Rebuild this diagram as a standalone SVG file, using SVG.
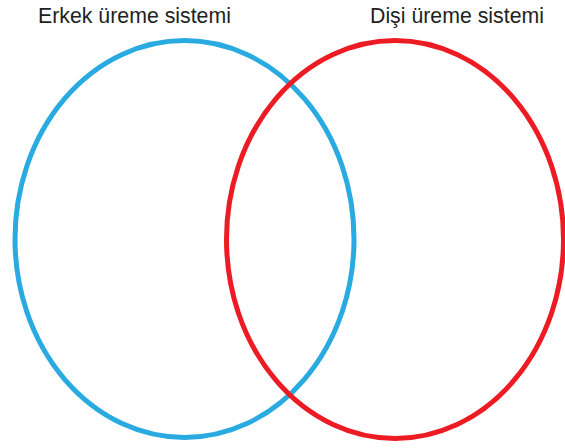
<svg xmlns="http://www.w3.org/2000/svg" width="565" height="448" viewBox="0 0 565 448">
<style>
.lbl{font-family:"Liberation Sans",Arial,sans-serif;font-size:21.3px;fill:#231f20}
.set{fill:none;stroke-width:5}
</style>
<rect width="565" height="448" fill="#ffffff"/>
<g id="male">
<ellipse class="set" cx="184.5" cy="239" rx="169.5" ry="198.5" stroke="#29abe2"/>
<text class="lbl" x="38" y="23">Erkek üreme sistemi</text>
</g>
<g id="female">
<ellipse class="set" cx="395" cy="239.5" rx="168.5" ry="199" stroke="#ed1c24"/>
<text class="lbl" x="370" y="23">Dişi üreme sistemi</text>
</g>
<g id="connectors"></g>
</svg>
